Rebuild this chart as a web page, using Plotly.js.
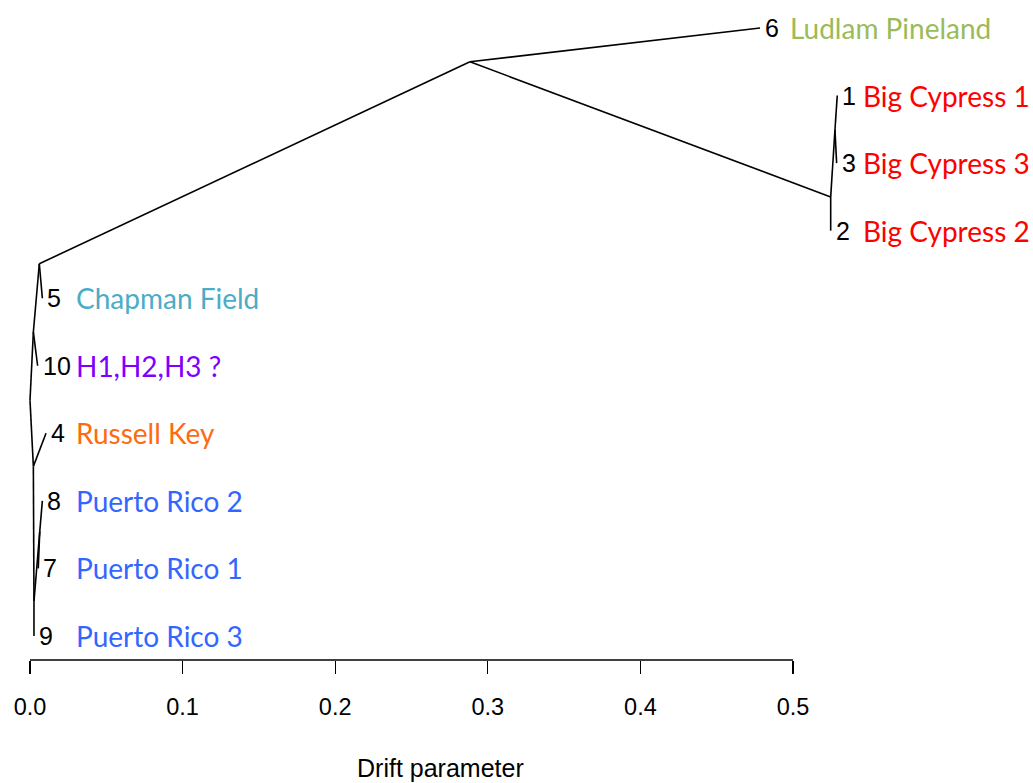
<!DOCTYPE html>
<html>
<head>
<meta charset="utf-8">
<script src="https://cdn.plot.ly/plotly-3.0.1.min.js"></script>
<style>html,body{margin:0;padding:0;background:#fff;}#chart{width:1033px;height:783px;}</style>
</head>
<body>
<div id="chart"></div>
<script>
// Node ids, drift (x) and vertical order (y)
const nodeIds   = ["R","N1","N2","A","BC","BC13","N3","N4","N78","t6","t1","t3","t2","t5","t10","t4","t8","t7","t9"];
const nodeDrift = [0.0,0.0022,0.0061,0.2883,0.5247,0.5275,0.0022,0.0026,0.0064,0.4784,0.5290,0.5286,0.5247,0.0081,0.0050,0.0105,0.0081,0.0054,0.0026];
const nodeY     = [4.49,5.50,6.51,9.50,7.50,8.49,3.51,1.51,2.55,10,9,8,7,6,5,4,3,2,1];
// Edges: parent -> child
const edgeParent = ["R","R","N1","N1","N2","N2","A","A","BC","BC","BC13","BC13","N3","N3","N4","N4","N78","N78"];
const edgeChild  = ["N1","N3","N2","t10","A","t5","t6","BC","t2","BC13","t1","t3","t4","N4","t9","N78","t8","t7"];
// Tips: id, number label, population name, colour
const tipIds    = ["t6","t1","t3","t2","t5","t10","t4","t8","t7","t9"];
const tipNums   = ["6","1","3","2","5","10","4","8","7","9"];
const tipNames  = ["Ludlam Pineland","Big Cypress 1","Big Cypress 3","Big Cypress 2","Chapman Field","H1,H2,H3 ?","Russell Key","Puerto Rico 2","Puerto Rico 1","Puerto Rico 3"];
const tipColors = ["#9BBB59","#FF0000","#FF0000","#FF0000","#4BACC6","#8000FF","#FF6A10","#3366FF","#3366FF","#3366FF"];
const tickVals  = [0.0,0.1,0.2,0.3,0.4,0.5];
const tickText  = ["0.0","0.1","0.2","0.3","0.4","0.5"];
const xTitle    = "Drift parameter";

// ---- Layout helpers ----
const PX = 1526;              // pixels per drift unit
const x0 = -30 / PX;
const x1 = x0 + 1033 / PX;
const PY = 67.55;             // pixels per tip row
const plotH = 660;
const yTop = 10 + 28 / PY;
const yBot = yTop - plotH / PY;

const idx = {}; nodeIds.forEach((n, i) => idx[n] = i);

// Build tree line trace
const lx = [], ly = [];
edgeParent.forEach((p, i) => {
  const c = edgeChild[i];
  lx.push(nodeDrift[idx[p]], nodeDrift[idx[c]], null);
  ly.push(nodeY[idx[p]], nodeY[idx[c]], null);
});

const traces = [{
  x: lx, y: ly, type: "scatter", mode: "lines",
  line: {color: "#000", width: 1.6}, hoverinfo: "skip", showlegend: false
}];

// name label pixel column per group (layout only)
function nameShift(i) {
  const tx = nodeDrift[idx[tipIds[i]]] * PX + 30;
  let target;
  if (tipNames[i].startsWith("Ludlam")) target = 791;
  else if (tipNames[i].startsWith("Big")) target = 864;
  else target = 77;
  return target - tx;
}

const annotations = [];
tipIds.forEach((t, i) => {
  const x = nodeDrift[idx[t]], y = nodeY[idx[t]];
  annotations.push({
    x: x, y: y, xref: "x", yref: "y", text: tipNums[i], showarrow: false,
    xanchor: "left", yanchor: "middle", xshift: 3,
    font: {family: "Liberation Sans, Arial, sans-serif", size: 25, color: "#000"}
  });
  annotations.push({
    x: x, y: y, xref: "x", yref: "y", text: tipNames[i], showarrow: false,
    xanchor: "left", yanchor: "middle", xshift: nameShift(i) - 3,
    font: {family: "Lato, Open Sans, sans-serif", size: 28, color: tipColors[i]}
  });
});
annotations.push({
  x: (440 - 30) / PX, y: 0, xref: "x", yref: "paper", text: xTitle, showarrow: false,
  xanchor: "center", yanchor: "middle", yshift: -108,
  font: {family: "Liberation Sans, Arial, sans-serif", size: 25, color: "#000"}
});

const layout = {
  width: 1033, height: 783,
  margin: {l: 0, r: 0, t: 0, b: 783 - plotH},
  paper_bgcolor: "#fff", plot_bgcolor: "#fff",
  showlegend: false,
  xaxis: {
    range: [x0, x1], showgrid: false, zeroline: false, showline: false,
    tickmode: "array", tickvals: tickVals, ticktext: tickText,
    ticks: "outside", ticklen: 13, tickwidth: 1.3, tickcolor: "#000",
    ticklabelstandoff: 13,
    tickfont: {family: "Liberation Sans, Arial, sans-serif", size: 23.5, color: "#000"}
  },
  yaxis: {range: [yBot, yTop], visible: false, showgrid: false, zeroline: false},
  shapes: [{
    type: "line", xref: "x", yref: "paper",
    x0: tickVals[0], x1: tickVals[tickVals.length - 1], y0: 0, y1: 0,
    line: {color: "#000", width: 1.3}
  }],
  annotations: annotations
};

Plotly.newPlot("chart", traces, layout, {displayModeBar: false, staticPlot: true});
</script>
</body>
</html>
